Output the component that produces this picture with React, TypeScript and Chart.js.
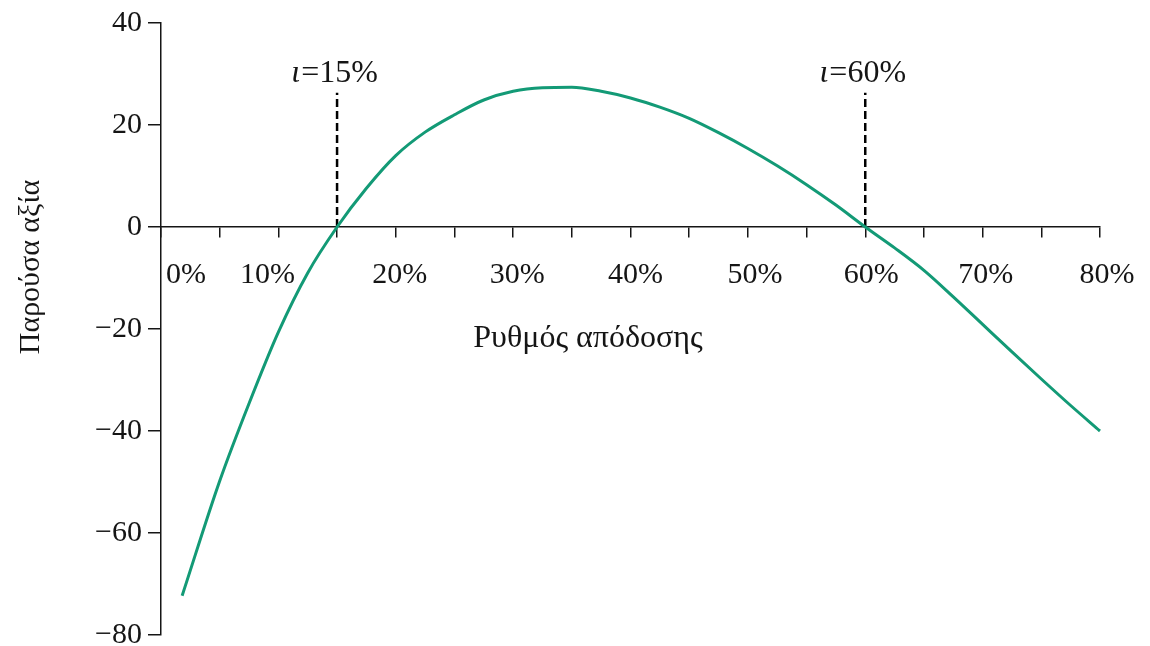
import React, { useEffect, useRef } from "react";
import { Chart, registerables } from "chart.js";

Chart.register(...registerables);

// Rate of return (%) and present value
const rates = [1.8, 5, 7.5, 10, 12.5, 15, 17.5, 20, 22.5, 25, 27.5, 30, 32.5, 35, 37.5, 40, 42.5, 45, 47.5, 50, 52.5, 55, 57.5, 60, 62.5, 65, 67.5, 70, 72.5, 75, 77.5, 80];
const npv = [-72.3, -49.8, -34.6, -20.6, -9, 0, 7.6, 14, 18.6, 22, 24.9, 26.6, 27.3, 27.4, 26.6, 25.3, 23.5, 21.3, 18.5, 15.4, 12, 8.3, 4.3, 0, -4.1, -8.5, -13.7, -19.1, -24.5, -29.8, -35, -40];

const xMinorTicks = [0, 5, 10, 15, 20, 25, 30, 35, 40, 45, 50, 55, 60, 65, 70, 75, 80];
const xLabelValues = [0, 10, 20, 30, 40, 50, 60, 70, 80];
const xLabels = ["0%", "10%", "20%", "30%", "40%", "50%", "60%", "70%", "80%"];
const yTicks = [-80, -60, -40, -20, 0, 20, 40];

const irrRates = [15, 60];
const irrLabels = ["=15%", "=60%"];
const dashTop = 26.3;

const xTitle = "Ρυθμός απόδοσης";
const yTitle = "Παρούσα αξία";

const SERIF = "'Liberation Serif', 'Times New Roman', serif";
const GREEN = "#139a76";
const INK = "#151515";

const textPlugin = {
  id: "textPlugin",
  afterDraw(chart: any) {
    const ctx = chart.ctx;
    const xs = chart.scales.x;
    const ys = chart.scales.y;
    const zeroY = ys.getPixelForValue(0);
    const labelShift = [25, -11, 4, 4, 5, 7, 6, 3, 7];
    ctx.save();
    ctx.fillStyle = INK;
    ctx.font = `30px ${SERIF}`;
    ctx.textAlign = "center";
    ctx.textBaseline = "alphabetic";
    xLabelValues.forEach((v, i) => {
      ctx.fillText(xLabels[i], xs.getPixelForValue(v) + labelShift[i], zeroY + 56);
    });
    // y title
    ctx.save();
    ctx.translate(31, 267);
    ctx.rotate(-Math.PI / 2);
    ctx.textBaseline = "middle";
    ctx.fillText(yTitle, 0, 0);
    ctx.restore();
    // x title
    ctx.font = `32px ${SERIF}`;
    ctx.fillText(xTitle, 588, zeroY + 120);
    // IRR labels
    irrRates.forEach((r, i) => {
      const px = xs.getPixelForValue(r);
      ctx.font = `italic 32px ${SERIF}`;
      const w1 = ctx.measureText("ι").width;
      ctx.font = `32px ${SERIF}`;
      const w2 = ctx.measureText(irrLabels[i]).width;
      const start = px - (w1 + w2) / 2 - 3;
      const by = ys.getPixelForValue(dashTop) - 11;
      ctx.textAlign = "left";
      ctx.font = `italic 32px ${SERIF}`;
      ctx.fillText("ι", start, by);
      ctx.font = `32px ${SERIF}`;
      ctx.fillText(irrLabels[i], start + w1 + 1, by);
    });
    ctx.restore();
  },
};

export default function App() {
  const ref = useRef<HTMLCanvasElement | null>(null);
  useEffect(() => {
    if (!ref.current) return;
    const dashed = irrRates.map((r) => ({
      data: [
        { x: r, y: 0 },
        { x: r, y: dashTop },
      ],
      borderColor: "#000",
      borderWidth: 2.5,
      borderDash: [8, 4],
      pointRadius: 0,
      tension: 0,
      clip: false as any,
    }));
    const chart = new Chart(ref.current, {
      type: "line",
      data: {
        datasets: [
          {
            data: rates.map((r, i) => ({ x: r, y: npv[i] })),
            borderColor: GREEN,
            borderWidth: 3,
            pointRadius: 0,
            cubicInterpolationMode: "monotone",
            clip: false as any,
          },
          ...dashed,
        ],
      },
      options: {
        animation: false,
        responsive: true,
        maintainAspectRatio: false,
        layout: { padding: { left: 0, right: 50, top: 23, bottom: 11 } },
        plugins: { legend: { display: false }, tooltip: { enabled: false } },
        scales: {
          x: {
            type: "linear",
            min: 0,
            max: 80,
            position: { y: 0 } as any,
            ticks: { display: false, stepSize: 5 },
            afterBuildTicks: (s: any) => {
              s.ticks = xMinorTicks.map((v) => ({ value: v }));
            },
            grid: { drawOnChartArea: false, drawTicks: true, tickLength: 10, color: INK, lineWidth: 1.5 },
            border: { color: INK, width: 1.5 },
          },
          y: {
            type: "linear",
            min: -80,
            max: 40,
            afterBuildTicks: (s: any) => {
              s.ticks = yTicks.map((v) => ({ value: v }));
            },
            ticks: {
              font: { family: SERIF, size: 30 },
              color: INK,
              padding: 6,
              callback: (v: any) => (Number(v) < 0 ? "\u2212" + Math.abs(Number(v)) : String(v)),
            },
            grid: { drawOnChartArea: false, drawTicks: true, tickLength: 13, color: INK, lineWidth: 1.5 },
            border: { color: INK, width: 1.5 },
            afterFit: (s: any) => {
              s.width = 161;
              s.paddingTop = 0;
              s.paddingBottom = 0;
            },
          },
        },
      },
      plugins: [textPlugin],
    });
    return () => chart.destroy();
  }, []);
  return (
    <div style={{ position: "fixed", left: 0, top: 0, width: 1150, height: 646, background: "#fff" }}>
      <canvas ref={ref} />
    </div>
  );
}
